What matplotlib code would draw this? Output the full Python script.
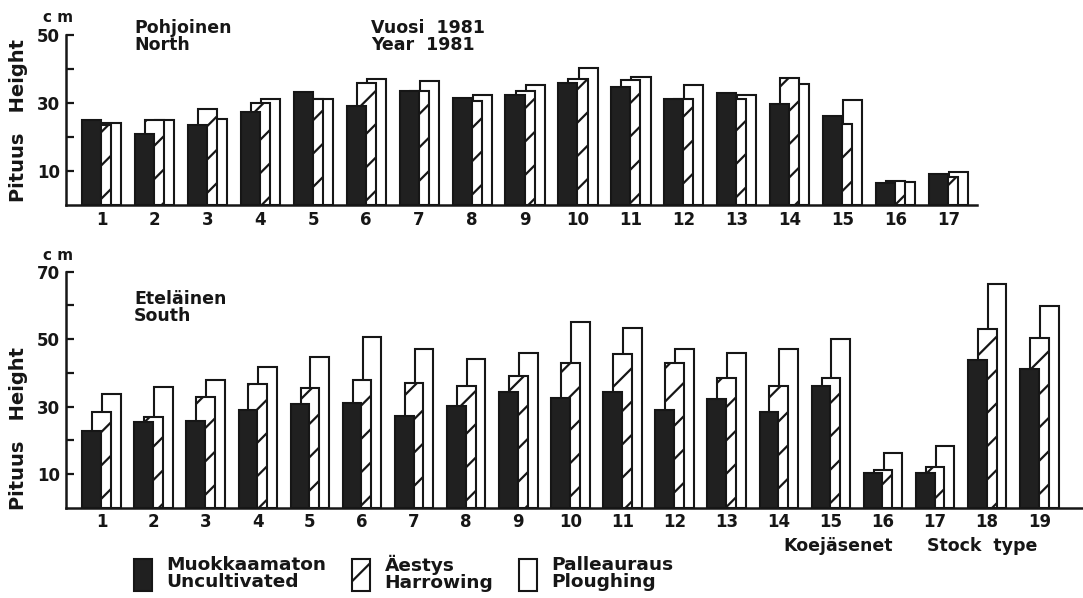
import matplotlib
matplotlib.use("Agg")
import matplotlib.pyplot as plt
from matplotlib.patches import Patch
import numpy as np

# ---------------- data ----------------
north_groups = [str(i) for i in range(1, 18)]
north_uncultivated = [25.0, 21.0, 23.5, 27.4, 33.3, 29.1, 33.5, 31.4, 32.4, 35.8, 34.8, 31.1, 32.8, 29.6, 26.2, 6.4, 9.0]
north_harrowing = [23.5, 25.0, 28.3, 29.9, 31.1, 36.0, 33.5, 30.7, 33.5, 37.1, 36.8, 31.2, 31.1, 37.4, 23.8, 7.1, 8.3]
north_ploughing = [24.0, 25.0, 25.3, 31.1, 31.1, 37.2, 36.5, 32.4, 35.3, 40.4, 37.7, 35.3, 32.4, 35.6, 30.9, 6.9, 9.7]

south_groups = [str(i) for i in range(1, 20)]
south_uncultivated = [22.9, 25.6, 25.8, 29.0, 30.8, 31.2, 27.3, 30.2, 34.3, 32.5, 34.5, 29.0, 32.3, 28.3, 36.2, 10.5, 10.5, 43.7, 41.2]
south_harrowing = [28.5, 26.9, 33.0, 36.7, 35.6, 37.9, 36.9, 36.1, 39.1, 43.1, 45.6, 42.9, 38.4, 36.1, 38.4, 11.3, 12.2, 52.9, 50.3]
south_ploughing = [33.8, 35.9, 37.9, 41.7, 44.8, 50.6, 47.0, 44.1, 46.0, 55.2, 53.2, 47.0, 46.0, 47.1, 50.1, 16.4, 18.5, 66.4, 59.9]

north_yticks = [10, 30, 50]
north_yminor = [20, 40]
south_yticks = [10, 30, 50, 70]
south_yminor = [20, 40, 60]

legend_labels = ["Muokkaamaton\nUncultivated", "Äestys\nHarrowing", "Palleauraus\nPloughing"]

# ---------------- style ----------------
INK = "#161616"
FILL = "#202020"
plt.rcParams["font.family"] = ["DejaVu Sans"]
plt.rcParams["hatch.linewidth"] = 1.6
plt.rcParams["hatch.color"] = INK

W, H = 1083, 598
fig = plt.figure(figsize=(W / 100, H / 100), dpi=100)
fig.patch.set_facecolor("white")


def fx(x):
    return x / W


def fy(y):
    return 1 - y / H


def make_axes(left, right, top, bottom):
    return fig.add_axes([fx(left), fy(bottom), fx(right) - fx(left), fy(top) - fy(bottom)])


BW = 0.36
OFF = 0.19
LW = 1.5


def draw_panel(ax, groups, unc, har, plo, ymax, yt, ym, xlim, xpad):
    x = np.arange(1, len(groups) + 1)
    ax.bar(x + OFF, plo, BW, facecolor="white", edgecolor=INK, linewidth=LW, zorder=2)
    ax.bar(x, har, BW, facecolor="white", edgecolor=INK, linewidth=LW, hatch="/", zorder=3)
    ax.bar(x - OFF, unc, BW, facecolor=FILL, edgecolor=INK, linewidth=LW, zorder=4)
    ax.set_xlim(*xlim)
    ax.set_ylim(0, ymax)
    ax.set_xticks(x)
    ax.set_xticklabels(groups, fontsize=12, fontweight="bold", color=INK)
    ax.tick_params(axis="x", length=0, pad=xpad)
    ax.set_yticks(yt)
    ax.set_yticks(ym, minor=True)
    ax.set_yticklabels([str(v) for v in yt], fontsize=12, fontweight="bold", color=INK)
    ax.tick_params(axis="y", which="both", direction="in", length=6, width=1.6, color=INK, pad=4)
    for s in ["top", "right"]:
        ax.spines[s].set_visible(False)
    for s in ["left", "bottom"]:
        ax.spines[s].set_linewidth(1.8)
        ax.spines[s].set_color(INK)
    ax.patch.set_alpha(0)


# top panel (North)
ax1 = make_axes(65.7, 976.7, 35, 205)
draw_panel(ax1, north_groups, north_uncultivated, north_harrowing, north_ploughing,
           50, north_yticks, north_yminor, (0.324, 17.53), 4.5)

# bottom panel (South)
ax2 = make_axes(65.7, 1082, 271.7, 508)
draw_panel(ax2, south_groups, south_uncultivated, south_harrowing, south_ploughing,
           70, south_yticks, south_yminor, (0.313, 19.82), 3.8)

# ---------------- texts ----------------
tk = dict(fontweight="bold", color=INK)
fig.text(fx(58), fy(18), "c m", fontsize=11, ha="center", va="center", **tk)
fig.text(fx(58), fy(256), "c m", fontsize=11, ha="center", va="center", **tk)

fig.text(fx(19), fy(120), "Pituus   Height", fontsize=14, rotation=90, ha="center", va="center", **tk)
fig.text(fx(19), fy(428), "Pituus   Height", fontsize=14, rotation=90, ha="center", va="center", **tk)

fig.text(fx(134), fy(19), "Pohjoinen\nNorth", fontsize=12.5, ha="left", va="top", linespacing=0.95, **tk)
fig.text(fx(371), fy(19), "Vuosi  1981\nYear  1981", fontsize=12.5, ha="left", va="top", linespacing=0.95, **tk)
fig.text(fx(134), fy(290), "Eteläinen\nSouth", fontsize=12.5, ha="left", va="top", linespacing=0.95, **tk)

fig.text(fx(783), fy(546), "Koejäsenet", fontsize=12.5, ha="left", va="center", **tk)
fig.text(fx(927), fy(546), "Stock  type", fontsize=12.5, ha="left", va="center", **tk)

# ---------------- legend ----------------
handles = [
    Patch(facecolor=FILL, edgecolor=INK, linewidth=LW),
    Patch(facecolor="white", edgecolor=INK, linewidth=LW, hatch="/"),
    Patch(facecolor="white", edgecolor=INK, linewidth=LW),
]
leg = fig.legend(handles, legend_labels, ncol=3, loc="upper left",
                 bbox_to_anchor=(fx(134), fy(555)), frameon=False,
                 prop=dict(size=13.3, weight="bold"),
                 handlelength=0.95, handleheight=2.3, handletextpad=0.8,
                 columnspacing=1.4, borderpad=0, borderaxespad=0, labelspacing=0)
for t in leg.get_texts():
    t.set_color(INK)
    t.set_linespacing(0.9)

fig.savefig("out.png", dpi=100, facecolor="white")
